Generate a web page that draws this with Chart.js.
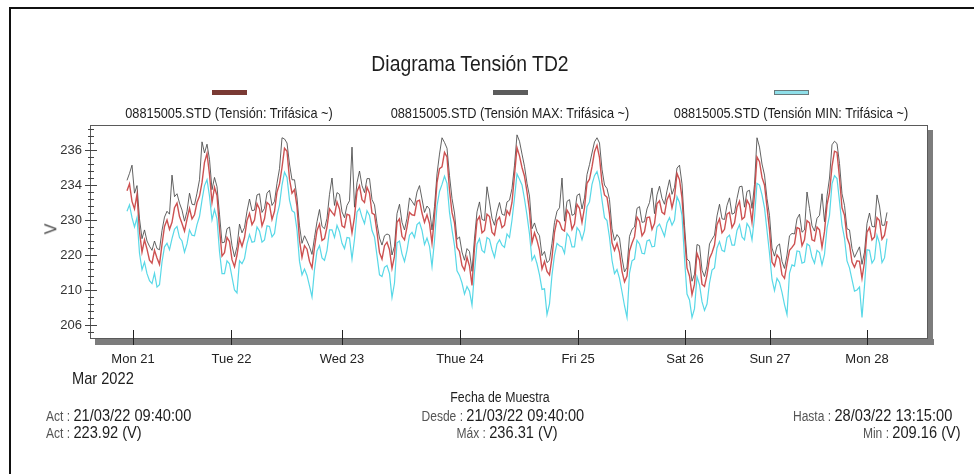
<!DOCTYPE html>
<html>
<head>
<meta charset="utf-8">
<title>Diagrama Tensión TD2</title>
<script src="https://cdn.jsdelivr.net/npm/chart.js@4.4.1/dist/chart.umd.min.js"></script>
<style>
    body { margin: 0; background: #fff; }
    #wrap {
        position: relative; width: 974px; height: 474px; overflow: hidden;
        font-family: 'Liberation Sans', Arial, sans-serif; color: #1e1e1e;
    }
    #frame { position: absolute; left: 9px; top: 7px; width: 990px; height: 490px; border-left: 2px solid #111; border-top: 2px solid #111; }
    #chartBox { position: absolute; left: 0; top: 0; width: 974px; height: 474px; }
    .t { position: absolute; white-space: nowrap; line-height: 1; }
    .l { transform: scaleX(0.86); transform-origin: left center; }
    .r { transform: scaleX(0.86); transform-origin: right center; }
    .c { transform: translateX(-50%) scaleX(0.88); transform-origin: center center; }
    .sw { position: absolute; width: 35px; height: 5px; }
    .lbl { color: #555; font-size: 14px; }
</style>
</head>
<body>
<div id="wrap">
    <div id="frame"></div>
    <div id="chartBox"><canvas id="voltChart"></canvas></div>

    <div class="t c" style="left:470px; top:53px; font-size:22px;">Diagrama Tensión TD2</div>

    <div class="sw" style="left:212px; top:90px; background:#7a3a34;"></div>
    <div class="sw" style="left:493px; top:90px; background:#5c5c5c;"></div>
    <div class="sw" style="left:774px; top:90px; background:#8fdfe9; box-sizing:border-box; border:1px solid #6a7a7c;"></div>
    <div class="t c" style="left:229px; top:106px; font-size:14.5px;">08815005.STD (Tensión: Trifásica ~)</div>
    <div class="t c" style="left:510px; top:106px; font-size:14.5px;">08815005.STD (Tensión MAX: Trifásica ~)</div>
    <div class="t c" style="left:791px; top:106px; font-size:14.5px;">08815005.STD (Tensión MIN: Trifásica ~)</div>

    <div class="t" style="left:46px; top:221px; font-size:16px; color:#444; transform:rotate(-90deg);">V</div>

    <div class="t l" style="left:72px; top:370px; font-size:17px;">Mar 2022</div>
    <div class="t c" style="left:500px; top:390px; font-size:14px;">Fecha de Muestra</div>

    <div class="t l" style="left:46px; top:407px; font-size:17px;"><span class="lbl">Act : </span>21/03/22 09:40:00</div>
    <div class="t l" style="left:46px; top:424px; font-size:17px;"><span class="lbl">Act : </span>223.92 (V)</div>

    <div class="t r" style="right:390px; top:407px; font-size:17px;"><span class="lbl">Desde : </span>21/03/22 09:40:00</div>
    <div class="t r" style="right:416px; top:424px; font-size:17px;"><span class="lbl">Máx : </span>236.31 (V)</div>

    <div class="t r" style="right:22px; top:407px; font-size:17px;"><span class="lbl">Hasta : </span>28/03/22 13:15:00</div>
    <div class="t r" style="right:13px; top:424px; font-size:17px;"><span class="lbl">Min : </span>209.16 (V)</div>
</div>

<script>
// ~37 min per sample, 21/03 09:40 -> 28/03 13:15
const tension = [
    229.0, 230.2, 227.2, 225.9, 228.4, 222.0, 218.5, 220.6, 219.0, 217.1,
    216.6, 218.8, 217.5, 216.4, 219.8, 222.9, 224.0, 222.4, 223.6, 226.1,
    226.9, 224.6, 223.4, 222.1, 224.1, 226.0, 224.2, 224.9, 227.0, 228.1,
    230.4, 233.9, 235.4, 231.8, 227.0, 229.6, 228.2, 222.5, 217.8, 218.4,
    221.0, 220.3, 217.2, 216.0, 218.0, 220.8, 219.5, 221.0, 223.9, 225.1,
    223.2, 224.0, 226.8, 225.9, 223.0, 224.2, 227.0, 226.6, 224.1, 225.5,
    228.8, 230.2, 233.0, 236.3, 235.8, 231.0, 228.6, 229.2, 226.3, 220.5,
    217.6, 219.6, 219.0, 216.9, 215.8, 219.3, 222.2, 223.3, 220.5, 220.8,
    222.8, 225.9, 225.3, 224.8, 227.1, 225.9, 223.0, 222.7, 225.0, 224.8,
    221.8, 224.5, 228.9, 229.9, 227.5, 227.0, 229.6, 228.6, 225.2, 224.9,
    221.9, 218.4, 217.3, 219.6, 220.2, 218.9, 215.7, 217.8, 223.6, 224.2,
    221.2, 220.6, 222.8, 225.3, 224.9, 224.8, 227.2, 227.4, 225.2, 223.6,
    224.9, 223.4, 220.0, 224.6, 230.4, 232.8, 233.1, 235.6, 234.8, 229.1,
    225.3, 223.5, 219.3, 218.6, 216.2, 215.4, 217.6, 216.1, 212.8, 219.2,
    223.9, 224.6, 221.8, 222.2, 225.0, 224.6, 221.9, 221.4, 223.9, 224.5,
    222.7, 223.1, 225.6, 224.9, 227.0, 231.7, 236.4, 235.0, 233.0, 231.5,
    228.8, 225.6, 220.1, 221.8, 220.5, 218.8, 215.6, 216.9, 215.2, 214.6,
    217.6, 221.9, 224.0, 223.6, 222.4, 222.1, 225.7, 225.0, 222.4, 223.3,
    226.7, 226.0, 223.6, 226.1, 230.3, 231.0, 233.1, 235.7, 236.8, 234.7,
    230.4, 228.3, 227.9, 225.0, 220.1, 218.8, 220.0, 218.4, 215.2, 213.4,
    214.4, 218.7, 220.0, 221.1, 224.5, 223.8, 221.3, 222.0, 224.4, 224.5,
    222.4, 223.4, 226.8, 227.3, 225.3, 225.0, 227.5, 228.4, 226.1, 227.9,
    232.0, 230.9, 227.8, 221.4, 215.8, 214.4, 211.2, 213.0, 218.3, 217.1,
    213.0, 212.6, 214.6, 217.4, 218.4, 219.7, 223.2, 224.2, 221.8, 222.4,
    225.0, 225.3, 222.7, 223.5, 226.2, 227.2, 224.1, 224.5, 227.4, 226.6,
    223.6, 228.4, 234.8, 234.0, 231.3, 230.0, 226.2, 222.3, 216.8, 216.1,
    218.0, 217.4, 214.6, 214.0, 216.5, 218.8, 219.3, 219.9, 222.7, 222.5,
    219.6, 220.6, 223.9, 223.5, 220.6, 220.4, 222.8, 222.3, 219.3, 222.0,
    226.6, 228.7, 233.2, 235.8, 235.6, 231.2, 226.1, 224.8, 221.0, 219.8,
    216.8, 215.9, 217.0, 216.9, 214.0, 216.8, 221.9, 222.7, 220.6, 221.1,
    224.4, 223.9, 220.7, 221.4, 223.8
];

const tensionMax = [
    230.8, 232.0, 233.4, 228.6, 229.9, 224.2, 220.8, 222.3, 220.4, 219.5,
    218.8, 220.4, 219.1, 218.9, 222.2, 224.5, 225.5, 225.0, 231.7, 228.0,
    228.5, 226.9, 225.7, 223.8, 225.5, 228.6, 226.7, 226.6, 228.6, 230.9,
    237.4, 235.5, 237.0, 234.4, 229.2, 231.3, 229.7, 225.0, 220.1, 220.2,
    222.5, 222.8, 219.6, 217.7, 219.4, 223.3, 221.8, 222.7, 225.5, 227.6,
    225.6, 225.7, 228.3, 228.5, 225.3, 226.0, 228.6, 229.1, 226.5, 227.2,
    230.3, 232.8, 238.1, 237.9, 237.2, 233.6, 230.9, 230.9, 227.8, 223.0,
    220.0, 221.3, 220.4, 219.4, 218.1, 221.0, 223.7, 225.8, 222.9, 222.5,
    224.3, 228.4, 231.2, 226.5, 228.7, 228.4, 225.4, 224.4, 226.5, 227.3,
    236.5, 226.2, 230.4, 232.4, 229.9, 228.7, 231.1, 231.1, 227.5, 226.6,
    223.4, 220.9, 219.7, 221.3, 221.6, 221.4, 218.0, 219.5, 225.1, 226.7,
    223.6, 222.3, 224.3, 227.8, 227.2, 226.5, 228.8, 229.9, 227.6, 225.3,
    226.4, 225.9, 222.3, 226.3, 231.9, 235.3, 238.1, 237.3, 236.3, 231.6,
    227.7, 225.2, 220.7, 221.1, 218.5, 217.1, 219.1, 218.6, 215.2, 220.9,
    225.4, 227.1, 224.1, 223.9, 229.7, 227.1, 224.3, 223.1, 225.4, 227.0,
    225.0, 224.8, 227.1, 227.4, 229.4, 233.4, 238.6, 237.5, 235.3, 233.2,
    230.3, 228.1, 222.5, 223.5, 222.0, 221.3, 217.9, 218.6, 216.7, 217.1,
    220.0, 223.6, 225.5, 226.1, 231.2, 223.8, 227.2, 227.5, 224.8, 225.0,
    228.2, 228.5, 225.9, 227.8, 231.8, 233.5, 235.5, 237.4, 238.1, 237.2,
    232.7, 230.0, 229.4, 227.5, 222.5, 220.5, 221.5, 220.9, 217.5, 215.1,
    215.9, 221.2, 222.4, 222.8, 226.0, 226.3, 223.6, 223.7, 225.9, 227.0,
    229.5, 225.1, 228.3, 229.8, 227.7, 226.7, 229.0, 230.9, 228.4, 229.6,
    232.9, 233.4, 230.2, 223.1, 217.3, 216.9, 213.5, 214.7, 219.8, 219.6,
    215.4, 214.3, 216.1, 219.9, 220.7, 221.4, 224.7, 226.7, 224.2, 224.1,
    226.5, 227.8, 225.0, 225.2, 227.7, 229.7, 229.8, 226.2, 228.9, 229.1,
    226.0, 230.1, 238.1, 236.5, 233.6, 231.7, 227.7, 224.8, 219.2, 217.8,
    219.5, 219.9, 216.9, 215.7, 218.0, 221.3, 221.7, 221.6, 224.2, 225.0,
    221.9, 222.3, 228.8, 226.0, 223.0, 222.1, 224.3, 224.8, 228.5, 223.7,
    228.1, 231.2, 236.9, 237.5, 237.1, 233.7, 228.5, 226.5, 222.5, 222.3,
    219.1, 217.6, 218.5, 219.4, 216.4, 218.5, 223.4, 225.2, 222.9, 222.8,
    228.3, 226.4, 223.1, 223.1, 225.3
];

const tensionMin = [
    225.5, 226.6, 224.4, 222.8, 224.4, 218.3, 215.5, 216.8, 214.8, 213.6,
    213.1, 214.9, 212.5, 212.9, 216.8, 219.4, 220.0, 218.9, 220.8, 222.4,
    222.9, 221.0, 220.4, 218.5, 219.9, 222.3, 221.4, 221.3, 223.2, 224.6,
    227.4, 229.9, 230.9, 228.1, 224.0, 225.8, 224.2, 218.6, 214.8, 214.8,
    217.0, 216.5, 214.2, 212.0, 211.5, 217.0, 216.5, 217.4, 219.9, 221.5,
    220.2, 220.3, 222.8, 222.1, 220.2, 220.6, 223.0, 222.9, 221.1, 221.7,
    224.8, 226.6, 230.0, 232.2, 231.3, 227.4, 225.6, 225.3, 222.3, 216.9,
    214.6, 215.6, 214.5, 212.7, 210.8, 215.5, 218.7, 219.6, 217.5, 217.1,
    218.8, 222.3, 222.3, 221.0, 223.1, 222.0, 220.0, 219.1, 221.0, 220.9,
    217.3, 220.7, 225.4, 226.0, 224.5, 223.4, 225.6, 224.8, 222.2, 221.1,
    217.9, 214.6, 214.3, 215.9, 216.2, 214.8, 210.7, 213.2, 220.1, 220.4,
    218.2, 216.9, 218.8, 221.4, 221.9, 221.0, 223.2, 223.6, 222.2, 219.8,
    220.9, 219.5, 216.0, 220.5, 226.4, 228.9, 230.1, 231.5, 230.3, 225.3,
    222.3, 219.6, 215.3, 214.5, 213.2, 211.3, 212.6, 211.8, 209.4, 215.1,
    219.9, 220.8, 218.8, 218.4, 221.0, 220.7, 218.9, 217.6, 219.9, 220.6,
    219.7, 219.3, 221.6, 221.0, 224.0, 227.8, 231.9, 231.0, 230.0, 227.6,
    224.8, 221.6, 217.1, 217.9, 216.5, 214.6, 212.1, 212.2, 207.8, 209.6,
    214.6, 218.0, 220.0, 219.6, 219.4, 218.3, 221.7, 221.1, 219.4, 219.4,
    222.7, 222.1, 220.6, 222.2, 226.3, 227.1, 230.1, 231.6, 232.3, 230.6,
    227.4, 224.4, 223.9, 221.0, 217.1, 214.8, 215.5, 214.0, 211.7, 209.3,
    207.3, 214.9, 217.0, 217.3, 220.5, 219.9, 218.3, 218.2, 220.4, 220.6,
    219.4, 219.5, 222.8, 223.3, 222.3, 221.2, 223.5, 224.4, 223.1, 224.0,
    228.0, 227.0, 224.8, 217.4, 211.3, 210.3, 207.3, 208.8, 214.3, 212.9,
    210.0, 208.5, 209.6, 213.2, 215.4, 215.8, 219.2, 220.3, 218.8, 218.6,
    221.0, 221.4, 219.7, 219.7, 222.2, 223.2, 221.1, 220.6, 223.4, 222.7,
    220.6, 224.5, 230.3, 230.0, 228.3, 226.1, 222.2, 218.3, 213.8, 211.9,
    214.0, 213.3, 211.6, 209.5, 207.8, 214.9, 216.3, 216.1, 218.7, 218.6,
    216.6, 216.8, 219.9, 219.6, 217.6, 216.6, 218.8, 218.4, 216.3, 218.1,
    222.6, 224.8, 230.2, 231.6, 231.1, 227.2, 223.1, 220.9, 217.0, 215.8,
    213.8, 211.8, 212.0, 212.5, 207.3, 212.7, 218.9, 218.8, 216.6, 217.3,
    221.4, 220.0, 216.7, 217.5, 220.8
];

// day ticks, in sample index units (the axis is not time-linear)
const dayTickPos = [2.4, 41.8, 86, 133.2, 180.4, 223.2, 257.2, 296];
const dayTickLabels = ['Mon 21', 'Tue 22', 'Wed 23', 'Thue 24', 'Fri 25', 'Sat 26', 'Sun 27', 'Mon 28'];

const yTickValues = [206, 212, 218, 224, 230, 236];
const yTickLabels = ['206', '210', '220', '230', '234', '236'];

const Y_MIN = 203.77;
const Y_MAX = 240.29;
const AREA = { left: 90, top: 125, right: 927, bottom: 338 };
const FIRST_PX = 127;
const SAMPLE_PX = 2.5;
const FONT = "'Liberation Sans', Arial, sans-serif";

function toPoints(values) {
    return values.map((v, i) => ({ x: i, y: v }));
}

const framePlugin = {
    id: 'framePlugin',
    afterDraw(chart) {
        const ctx = chart.ctx;
        const a = chart.chartArea;
        const yScale = chart.scales.y;
        const xScale = chart.scales.x;

        ctx.save();
        // drop shadow
        ctx.fillStyle = '#7c7c7c';
        ctx.fillRect(a.right + 1, a.top + 5, 5, a.bottom - a.top + 2);
        ctx.fillRect(a.left + 5, a.bottom + 1, a.right - a.left + 2, 6);

        ctx.strokeStyle = '#5a5a5a';
        ctx.lineWidth = 1;
        ctx.strokeRect(a.left + 0.5, a.top + 0.5, a.right - a.left, a.bottom - a.top);

        // y ticks: major every 6, minor every 1.2
        ctx.strokeStyle = '#444';
        ctx.beginPath();
        for (let k = -2; k <= 30; k++) {
            const v = 206 + 1.2 * k;
            if (v < Y_MIN || v > Y_MAX) continue;
            const py = Math.round(yScale.getPixelForValue(v)) + 0.5;
            const major = k % 5 === 0;
            ctx.moveTo(a.left - (major ? 5 : 2), py);
            ctx.lineTo(a.left + (major ? 7 : 4), py);
        }
        ctx.stroke();

        // x ticks
        ctx.strokeStyle = '#222';
        ctx.beginPath();
        dayTickPos.forEach(pos => {
            const px = Math.round(xScale.getPixelForValue(pos)) + 0.5;
            ctx.moveTo(px, a.bottom - 8);
            ctx.lineTo(px, a.bottom + 7);
        });
        ctx.stroke();
        ctx.restore();
    }
};

function createVoltageChart() {
    const ctx = document.getElementById('voltChart').getContext('2d');
    new Chart(ctx, {
        type: 'line',
        data: {
            datasets: [{
                label: '08815005.STD (Tensión MIN: Trifásica ~)',
                data: toPoints(tensionMin),
                borderColor: 'rgba(70, 212, 228, 0.9)',
                borderWidth: 1.2,
                pointRadius: 0,
                tension: 0
            }, {
                label: '08815005.STD (Tensión: Trifásica ~)',
                data: toPoints(tension),
                borderColor: 'rgba(200, 62, 62, 0.9)',
                borderWidth: 1.4,
                pointRadius: 0,
                tension: 0
            }, {
                label: '08815005.STD (Tensión MAX: Trifásica ~)',
                data: toPoints(tensionMax),
                borderColor: 'rgba(72, 72, 72, 0.85)',
                borderWidth: 1,
                pointRadius: 0,
                tension: 0
            }]
        },
        options: {
            responsive: true,
            maintainAspectRatio: false,
            animation: false,
            devicePixelRatio: 1,
            layout: {
                padding: { left: 0, top: AREA.top, right: 974 - AREA.right, bottom: 0 }
            },
            plugins: {
                legend: { display: false },
                title: { display: false },
                tooltip: { enabled: false }
            },
            scales: {
                x: {
                    type: 'linear',
                    min: (AREA.left - FIRST_PX) / SAMPLE_PX,
                    max: (AREA.right - FIRST_PX) / SAMPLE_PX,
                    grid: { display: false, drawTicks: false },
                    border: { display: false },
                    afterFit: scale => { scale.height = 474 - AREA.bottom; },
                    afterBuildTicks: scale => {
                        scale.ticks = dayTickPos.map(v => ({ value: v }));
                    },
                    ticks: {
                        autoSkip: false,
                        maxRotation: 0,
                        padding: 14,
                        color: '#222',
                        font: { family: FONT, size: 13 },
                        callback: (value, index) => dayTickLabels[index]
                    }
                },
                y: {
                    min: Y_MIN,
                    max: Y_MAX,
                    grid: { display: false, drawTicks: false },
                    border: { display: false },
                    afterFit: scale => { scale.width = AREA.left; },
                    afterBuildTicks: scale => {
                        scale.ticks = yTickValues.map(v => ({ value: v }));
                    },
                    ticks: {
                        padding: 8,
                        color: '#333',
                        font: { family: FONT, size: 13 },
                        callback: (value, index) => yTickLabels[index]
                    }
                }
            }
        },
        plugins: [framePlugin]
    });
}

document.addEventListener('DOMContentLoaded', createVoltageChart);
</script>
</body>
</html>
